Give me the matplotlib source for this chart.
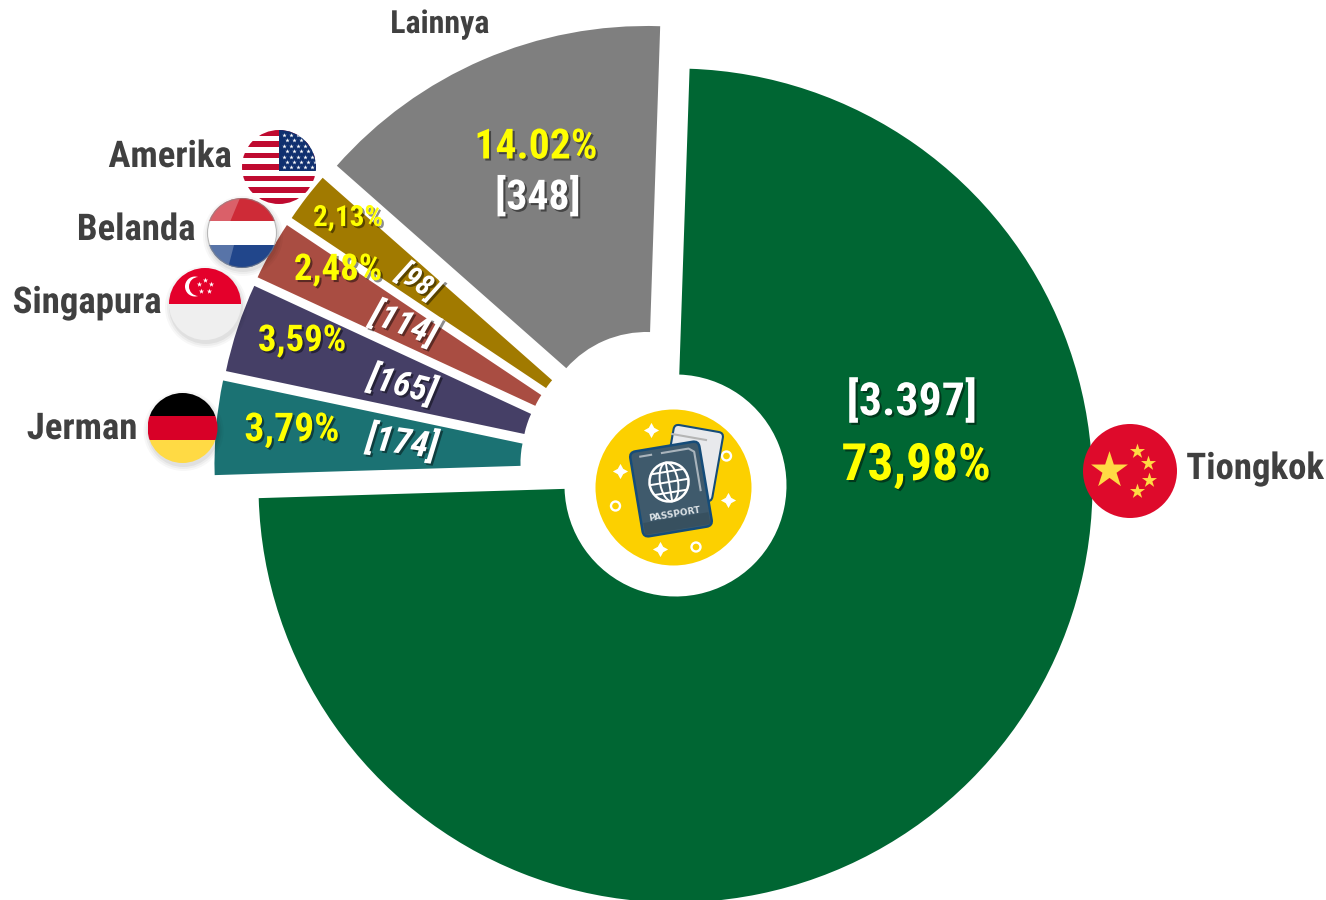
import matplotlib
matplotlib.use("Agg")
import matplotlib.pyplot as plt
import matplotlib.patheffects as pe
from matplotlib.patches import Circle, Rectangle, FancyBboxPatch, Ellipse, Polygon
from matplotlib.transforms import Affine2D
import numpy as np

# data, going counter-clockwise from the top
countries = ["Lainnya", "Amerika", "Belanda", "Singapura", "Jerman", "Tiongkok"]
shares = [14.02, 2.13, 2.48, 3.59, 3.79, 73.98]
share_labels = ["14.02%", "2,13%", "2,48%", "3,59%", "3,79%", "73,98%"]
count_labels = ["[348]", "[98]", "[114]", "[165]", "[174]", "[3.397]"]

# styling per slice (pixel coords of the picture, y downwards)
colors = ["#7F7F7F", "#A17A00", "#A94D42", "#453F66", "#1B7273", "#006633"]
apex = [(646.5, 439), (607.6, 429.2), (607, 439), (616.4, 453.4), (614.5, 463), (675.5, 485.5)]
outer = [413, 380, 385, 399, 400, 417]
inner = [107, 74, 79, 94, 94, 111]
start_angle = 88.1

NARROW = ["Roboto Condensed", "Liberation Sans"]
DARK = "#404040"
W, H = 1326, 900

plt.rcParams["font.family"] = NARROW
fig = plt.figure(figsize=(W / 100, H / 100), dpi=100)
ax = fig.add_axes([0, 0, 1, 1])


def Y(py):
    return H - py


def put(x, y, s, size, color, rot=0, style="normal", shadow=True):
    fx = [pe.Normal()]
    if shadow:
        fx = [pe.withSimplePatchShadow(offset=(1.5, -1.5), shadow_rgbFace="black", alpha=0.45)]
    ax.text(x, Y(y), s, fontsize=size, color=color, fontweight="bold", style=style,
            ha="center", va="center", rotation=rot, rotation_mode="anchor",
            path_effects=fx, zorder=8)


angle = start_angle
for i in range(len(shares)):
    ax.pie([shares[i] / 100], startangle=angle, radius=outer[i],
           center=(apex[i][0], Y(apex[i][1])), normalize=False, colors=[colors[i]],
           wedgeprops=dict(width=outer[i] - inner[i], linewidth=0))
    angle += shares[i] / 100 * 360

ax.set_xlim(0, W)
ax.set_ylim(0, H)
ax.axis("off")

# slice texts
share_pos = [(536, 147, 30, 0), (348, 218, 21, 0), (338, 270, 26.5, 0), (302, 341, 26.5, 0),
             (292, 430, 28.5, 0), (916, 466, 37, 0)]
count_pos = [(538, 197, 30, 0), (418, 282, 21, -33), (404, 324, 25, -20), (402, 385, 25, -14),
             (402, 443, 26, -8), (912, 401, 33, 0)]
for i in range(len(shares)):
    x, y, sz, r = share_pos[i]
    put(x, y, share_labels[i], sz, "#FFFF00", r)
    x, y, sz, r = count_pos[i]
    put(x, y, count_labels[i], sz, "white", r, style="italic" if r else "normal")

# country names
name_pos = [(440, 24, 23), (170, 157, 26.5), (136, 230, 26.5), (87, 303, 26.5), (82, 429, 26.5), (1255, 469, 26.5)]
for i in range(len(countries)):
    x, y, sz = name_pos[i]
    put(x, y, countries[i], sz, DARK, shadow=False)


# flags
def flag_base(cx, cy, r):
    clip = Circle((cx, Y(cy)), r, transform=ax.transData)
    return clip


def band(cx, cy, r, top, bottom, color, clip, x0=None, x1=None, z=6):
    # top/bottom as fractions of the flag height, from the top
    x0 = cx - r if x0 is None else x0
    x1 = cx + r if x1 is None else x1
    p = Rectangle((x0, Y(cy - r + bottom * 2 * r)), x1 - x0, (bottom - top) * 2 * r,
                  facecolor=color, linewidth=0, zorder=z)
    ax.add_patch(p)
    p.set_clip_path(clip)


def soft_shadow(cx, cy, r):
    for k, a in [(5, 0.03), (3, 0.04), (1, 0.05)]:
        ax.add_patch(Circle((cx + 1, Y(cy + 3)), r + k, facecolor="black", alpha=a, linewidth=0, zorder=5))


# Amerika
cx, cy, r = 279, 167, 37
clip = flag_base(cx, cy, r)
band(cx, cy, r, 0, 1, "white", clip)
for k in range(7):
    band(cx, cy, r, k * 2 / 13, (k * 2 + 1) / 13, "#BF0A30", clip)
band(cx, cy, r, 0, 0.56, "#10306F", clip, x0=cx)
sx, sy = [], []
for row in range(7):
    for col in range(5):
        sx.append(cx + 5 + col * 7 + (row % 2) * 3)
        sy.append(Y(cy - r + 5 + row * 5.4))
st = ax.scatter(sx, sy, s=11, marker="*", color="white", linewidths=0, zorder=7)
st.set_clip_path(clip)

# Belanda
cx, cy, r = 242, 233, 35
soft_shadow(cx, cy, r)
clip = flag_base(cx, cy, r)
band(cx, cy, r, 0, 1 / 3, "#CE2B37", clip)
band(cx, cy, r, 1 / 3, 2 / 3, "white", clip)
band(cx, cy, r, 2 / 3, 1, "#21468B", clip)
gl = Polygon([(cx - r, Y(cy - r)), (cx - 2, Y(cy - r)), (cx - 12, Y(cy - 11)), (cx - r, Y(cy - 11))],
             facecolor="white", alpha=0.25, linewidth=0, zorder=7)
ax.add_patch(gl)
gl.set_clip_path(clip)
gl = Polygon([(cx - r, Y(cy + 12)), (cx - 8, Y(cy + 12)), (cx - 14, Y(cy + r)), (cx - r, Y(cy + r))],
             facecolor="white", alpha=0.25, linewidth=0, zorder=7)
ax.add_patch(gl)
gl.set_clip_path(clip)
ax.add_patch(Circle((cx, Y(cy)), r - 0.5, facecolor="none", edgecolor="#8A8A8A", linewidth=0.8, alpha=0.6, zorder=7))

# Singapura
cx, cy, r = 205, 304, 36
soft_shadow(cx, cy, r)
clip = flag_base(cx, cy, r)
band(cx, cy, r, 0, 0.5, "#E4002B", clip)
band(cx, cy, r, 0.5, 1, "#EFEFEF", clip)
ax.add_patch(Circle((cx - 10, Y(cy - 17.5)), 10, facecolor="white", linewidth=0, zorder=7))
ax.add_patch(Circle((cx - 6.5, Y(cy - 17.5)), 9.5, facecolor="#E4002B", linewidth=0, zorder=7))
star_ang = np.deg2rad(90 + 72 * np.arange(5))
ax.scatter(cx + 6.5 * np.cos(star_ang), Y(cy - 18) + 6.5 * np.sin(star_ang), s=16, marker="*",
           color="white", linewidths=0, zorder=7)

# Jerman
cx, cy, r = 182.5, 428, 35
soft_shadow(cx, cy, r)
clip = flag_base(cx, cy, r)
band(cx, cy, r, 0, 1 / 3, "black", clip)
band(cx, cy, r, 1 / 3, 2 / 3, "#D80027", clip)
band(cx, cy, r, 2 / 3, 1, "#FFDA44", clip)

# Tiongkok
cx, cy, r = 1130, 471, 47
ax.add_patch(Circle((cx, Y(cy)), r, facecolor="#DE0A2B", linewidth=0, zorder=6))
ax.scatter([1109], [Y(470)], s=780, marker="*", color="#FFDA44", linewidths=0, zorder=7)
ax.scatter([1136.7, 1148.3, 1148.7, 1136.7], [Y(451), Y(463.3), Y(480), Y(491)], s=130,
           marker="*", color="#FFDA44", linewidths=0, zorder=7)

# passport icon
ax.add_patch(Circle((673.5, Y(487.5)), 78, facecolor="#FCD000", linewidth=0, zorder=3))
ax.scatter([650.5, 619.5, 727.5, 659.5], [Y(430), Y(471), Y(500), Y(549)], s=120, marker=(4, 1, 0),
           color="white", linewidths=0, zorder=4)
ax.scatter([726.5, 615.5, 696], [Y(456), Y(506), Y(547)], s=42, facecolor="none", edgecolor="white",
           linewidths=1.7, zorder=4)

ticket = FancyBboxPatch((-25, -35), 50, 70, boxstyle="round,pad=0,rounding_size=5", facecolor="#E8E9EC",
                        edgecolor="#154C79", linewidth=1.5, zorder=4,
                        transform=Affine2D().rotate_deg(-10).translate(693, Y(463)) + ax.transData)
ax.add_patch(ticket)
ax.plot([672, 706], [Y(434), Y(440)], color="#B5B5B5", linewidth=1.5, zorder=4.5)

rot = Affine2D().rotate_deg(9.5).translate(671, Y(489)) + ax.transData
ax.add_patch(FancyBboxPatch((-35, -43), 70, 86, boxstyle="round,pad=0,rounding_size=6", facecolor="#3F5A6C",
                            edgecolor="#154C79", linewidth=1.8, zorder=5, transform=rot))
ax.add_patch(Rectangle((-33, -41), 66, 12, facecolor="#37505F", linewidth=0, zorder=5, transform=rot))
ax.plot([-25, -14], [37, 37], color="#A9B4BC", linewidth=1.5, zorder=5.2, transform=rot)
ax.plot([-3, 24, 29, 29], [37, 37, 33, -6], color="#A9B4BC", linewidth=1.5, zorder=5.2, transform=rot)

# globe
gx, gy = 669, Y(482)
gt = Affine2D().rotate_deg(9.5).translate(gx, gy) + ax.transData
ax.add_patch(Circle((0, 0), 19.5, facecolor="none", edgecolor="white", linewidth=1.8, zorder=6, transform=gt))
ax.add_patch(Ellipse((0, 0), 18, 39, facecolor="none", edgecolor="white", linewidth=1.4, zorder=6, transform=gt))
ax.plot([0, 0], [-19.5, 19.5], color="white", linewidth=1.4, zorder=6, transform=gt)
ax.plot([-19.5, 19.5], [0, 0], color="white", linewidth=1.4, zorder=6, transform=gt)
ax.plot([-16, 16], [10.5, 10.5], color="white", linewidth=1.4, zorder=6, transform=gt)
ax.plot([-16, 16], [-10.5, -10.5], color="white", linewidth=1.4, zorder=6, transform=gt)

ax.text(675, Y(514), "PASSPORT", fontsize=6.5, color="#DDE3E6", ha="center", va="center", rotation=9.5,
        rotation_mode="anchor", family=["DejaVu Sans"], fontweight="bold", zorder=6)

fig.savefig("out.png", dpi=100, facecolor="white")
